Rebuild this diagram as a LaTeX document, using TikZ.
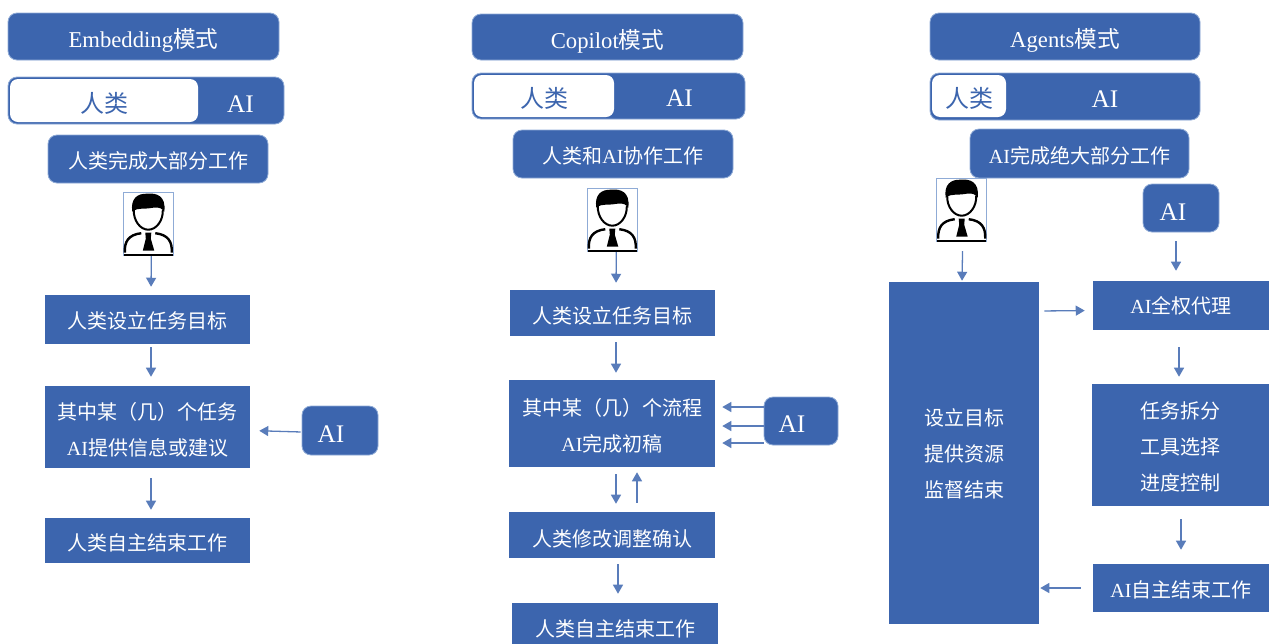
\documentclass[tikz,border=0pt]{standalone}
\usepackage{fontspec}
\setmainfont{Liberation Serif}
\newfontfamily\cjk{Noto Sans CJK SC}
\usetikzlibrary{arrows.meta}
\newlength{\du}
\setlength{\du}{0.75pt}
\newcommand{\zh}[1]{{\cjk #1}}
\newcommand{\tx}[2][2]{\raisebox{-#1\du}[\height][\depth]{#2}}
\definecolor{dialinecolor}{rgb}{0.235000, 0.396000, 0.682000}
\definecolor{edgecolor}{rgb}{0.560000, 0.670000, 0.840000}
\tikzset{
  roundbox/.style={fill=dialinecolor,draw=edgecolor,line width=0.8\du,rounded corners=9\du,inner sep=0pt,text=white,font=\fontsize{15}{27}\selectfont},
  titlebox/.style={roundbox,font=\fontsize{17}{20}\selectfont},
  aibox/.style={roundbox,font=\fontsize{19}{22}\selectfont},
  whitebox/.style={fill=white,rounded corners=8\du,inner sep=0pt,text=dialinecolor,font=\fontsize{18}{22}\selectfont},
  rectbox/.style={fill=dialinecolor,inner sep=0pt,text=white,align=center,font=\fontsize{15}{27}\selectfont},
  ailabel/.style={inner sep=0pt,text=white,font=\fontsize{19}{22}\selectfont},
  manframe/.style={draw=edgecolor,line width=1\du,fill=white,inner sep=0pt,minimum width=50\du,minimum height=63\du},
  flow/.style={draw=dialinecolor!85!white,line width=1.3\du,-{Triangle[length=6.75pt,width=7.5pt]}}
}
\newcommand{\manicon}[3]{
\begin{scope}[shift={(#2\du,#3\du)}]
\node[manframe] (#1) at (25\du,31.5\du) {};
\fill (9\du,19\du)..controls (7\du,6\du) and (14\du,0.5\du) .. (24\du,1\du)..controls (33\du,0\du) and (43\du,3\du) .. (41\du,19\du)..controls (39\du,16\du) and (36\du,14\du) .. (30\du,15\du)..controls (23\du,17\du) and (15\du,14\du) .. (9\du,19\du)--cycle;
\draw[line width=2\du] (10.5\du,17\du)..controls (10\du,28\du) and (17\du,37\du) .. (25\du,37\du)..controls (33\du,37\du) and (40\du,28\du) .. (39.5\du,17\du);
\draw[line width=2.4\du] (1.5\du,60\du)..controls (1\du,49\du) and (5\du,42\du) .. (18\du,40.5\du);
\draw[line width=2.4\du] (48.5\du,60\du)..controls (49\du,49\du) and (45\du,42\du) .. (32\du,40.5\du);
\fill (22\du,40\du)--(28\du,40\du)--(27.5\du,46\du)--(31\du,58\du)--(19.5\du,58\du)--(22.5\du,46\du)--cycle;
\draw[line width=2\du] (0.5\du,61.8\du)--(49.5\du,61.8\du);
\end{scope}
}

\begin{document}
\begin{tikzpicture}
\pgftransformxscale{1.000000}
\pgftransformyscale{-1.000000}
\useasboundingbox (0\du,0\du) rectangle (1269\du,643\du);
% Embedding
\node[titlebox,minimum width=271\du,minimum height=47\du] (titleA) at (143.5\du,36.5\du){\tx[4]{Embedding\zh{模式}}};
\node[roundbox,minimum width=276\du,minimum height=47\du] (barA) at (146\du,100.5\du){};
\node[whitebox,minimum width=188\du,minimum height=43\du] (humanA) at (104\du,100.5\du){\tx[3]{\zh{人类}}};
\node[ailabel] (barlabelA) at (240.5\du,104\du){AI};
\node[roundbox,minimum width=220\du,minimum height=48\du] (summaryA) at (158\du,159\du){\tx{\zh{人类完成大部分工作}}};
\manicon{manA}{123.3}{192.7}
\node[rectbox,minimum width=205\du,minimum height=49\du] (goalA) at (147.5\du,319.5\du){\tx[1]{\zh{人类设立任务目标}}};
\node[rectbox,minimum width=205\du,minimum height=82\du] (taskA) at (147.5\du,427\du){\tx[3]{\zh{其中某（几）个任务}}\\\tx[3]{AI\zh{提供信息或建议}}};
\node[aibox,minimum width=76\du,minimum height=49\du] (helperA) at (340\du,430.5\du){\tx[4]{AI}\rule{18\du}{0pt}};
\node[rectbox,minimum width=205\du,minimum height=45\du] (endA) at (147.5\du,540.5\du){\tx{\zh{人类自主结束工作}}};
\draw[flow,shorten >=8\du] ([xshift=3\du]manA.south)--([xshift=3.5\du]goalA.north);
\draw[flow,shorten <=3\du,shorten >=9\du] ([xshift=3.5\du]goalA.south)--([xshift=3.5\du]taskA.north);
\draw[flow,shorten <=10\du,shorten >=8\du] ([xshift=3.5\du]taskA.south)--([xshift=3.5\du]endA.north);
\draw[flow,shorten <=1\du,shorten >=9\du] ([yshift=1.5\du]helperA.west)--([yshift=3.5\du]taskA.east);
% Copilot
\node[titlebox,minimum width=271\du,minimum height=46\du] (titleB) at (607.5\du,37\du){\tx[4]{Copilot\zh{模式}}};
\node[roundbox,minimum width=273\du,minimum height=46\du] (barB) at (608.5\du,96\du){};
\node[whitebox,minimum width=140\du,minimum height=42\du] (humanB) at (544\du,96\du){\tx{\zh{人类}}};
\node[ailabel] (barlabelB) at (679.5\du,98.5\du){AI};
\node[roundbox,minimum width=220\du,minimum height=48\du] (summaryB) at (623\du,154\du){\tx{\zh{人类和}AI\zh{协作工作}}};
\manicon{manB}{587.3}{188.7}
\node[rectbox,minimum width=205\du,minimum height=46\du] (goalB) at (612.5\du,313\du){\tx[3]{\zh{人类设立任务目标}}};
\node[rectbox,minimum width=206\du,minimum height=87\du] (taskB) at (612\du,423.5\du){\tx{\zh{其中某（几）个流程}}\\\tx{AI\zh{完成初稿}}};
\node[aibox,minimum width=74\du,minimum height=48\du] (helperB) at (801\du,421\du){\tx[3]{AI}\rule{18\du}{0pt}};
\node[rectbox,minimum width=206\du,minimum height=46\du] (editB) at (612\du,535\du){\tx[4]{\zh{人类修改调整确认}}};
\node[rectbox,minimum width=206\du,minimum height=50\du] (endB) at (615\du,628\du){\tx[1]{\zh{人类自主结束工作}}};
\draw[flow,shorten >=7\du] ([xshift=4\du]manB.south)--([xshift=3.5\du]goalB.north);
\draw[flow,shorten <=6\du,shorten >=7\du] ([xshift=3.5\du]goalB.south)--([xshift=4\du]taskB.north);
\draw[flow,shorten <=7\du,shorten >=8\du] ([xshift=4\du]taskB.south)--([xshift=4\du]editB.north);
\draw[flow,shorten <=9\du,shorten >=5\du] ([xshift=25\du]editB.north)--([xshift=25\du]taskB.south);
\draw[flow,shorten <=6\du,shorten >=9\du] ([xshift=6\du]editB.south)--([xshift=3\du]endB.north);
\draw[flow,shorten >=7\du] ([yshift=-14\du]helperB.west)--([yshift=-16.5\du]taskB.east);
\draw[flow,shorten >=7\du] ([yshift=5\du]helperB.west)--([yshift=2.5\du]taskB.east);
\draw[flow,shorten >=7\du] ([yshift=22\du]helperB.west)--([yshift=19.5\du]taskB.east);
% Agents
\node[titlebox,minimum width=270\du,minimum height=47\du] (titleC) at (1065\du,36.5\du){\tx[4]{Agents\zh{模式}}};
\node[roundbox,minimum width=270\du,minimum height=47\du] (barC) at (1065\du,96.5\du){};
\node[whitebox,minimum width=74\du,minimum height=42\du] (humanC) at (969\du,96\du){\tx{\zh{人类}}};
\node[ailabel] (barlabelC) at (1105\du,99.5\du){AI};
\node[roundbox,minimum width=219\du,minimum height=49\du] (summaryC) at (1079.5\du,153.5\du){\tx{AI\zh{完成绝大部分工作}}};
\manicon{manC}{936.7}{178.7}
\node[aibox,minimum width=76\du,minimum height=48\du] (helperC) at (1181\du,208\du){\tx[4]{AI}\rule{16\du}{0pt}};
\node[rectbox,minimum width=150\du,minimum height=342\du] (superviseC) at (964\du,453\du){\tx[1]{\zh{设立目标}}\\\tx[1]{\zh{提供资源}}\\\tx[1]{\zh{监督结束}}};
\node[rectbox,minimum width=176\du,minimum height=49\du] (proxyC) at (1181\du,305.5\du){AI\zh{全权代理}};
\node[rectbox,minimum width=177\du,minimum height=122\du] (planC) at (1180.5\du,445\du){\tx[1.5]{\zh{任务拆分}}\\\tx[1.5]{\zh{工具选择}}\\\tx[1.5]{\zh{进度控制}}};
\node[rectbox,minimum width=176\du,minimum height=48\du] (endC) at (1181\du,588\du){\tx{AI\zh{自主结束工作}}};
\draw[flow,shorten <=9\du,shorten >=1\du] ([xshift=1\du]manC.south)--([xshift=-2\du]superviseC.north);
\draw[flow,shorten <=9\du,shorten >=10\du] ([xshift=-5\du]helperC.south)--([xshift=-5\du]proxyC.north);
\draw[flow,shorten <=5\du,shorten >=8\du] ([yshift=-142\du]superviseC.east)--([yshift=5\du]proxyC.west);
\draw[flow,shorten <=17\du,shorten >=7\du] ([xshift=-2\du]proxyC.south)--([xshift=-1.5\du]planC.north);
\draw[flow,shorten <=13\du,shorten >=14\du] ([xshift=0.5\du]planC.south)--([xshift=0\du]endC.north);
\draw[flow,shorten <=12\du,shorten >=1\du] ([yshift=0\du]endC.west)--([yshift=135\du]superviseC.east);
\end{tikzpicture}
\end{document}
